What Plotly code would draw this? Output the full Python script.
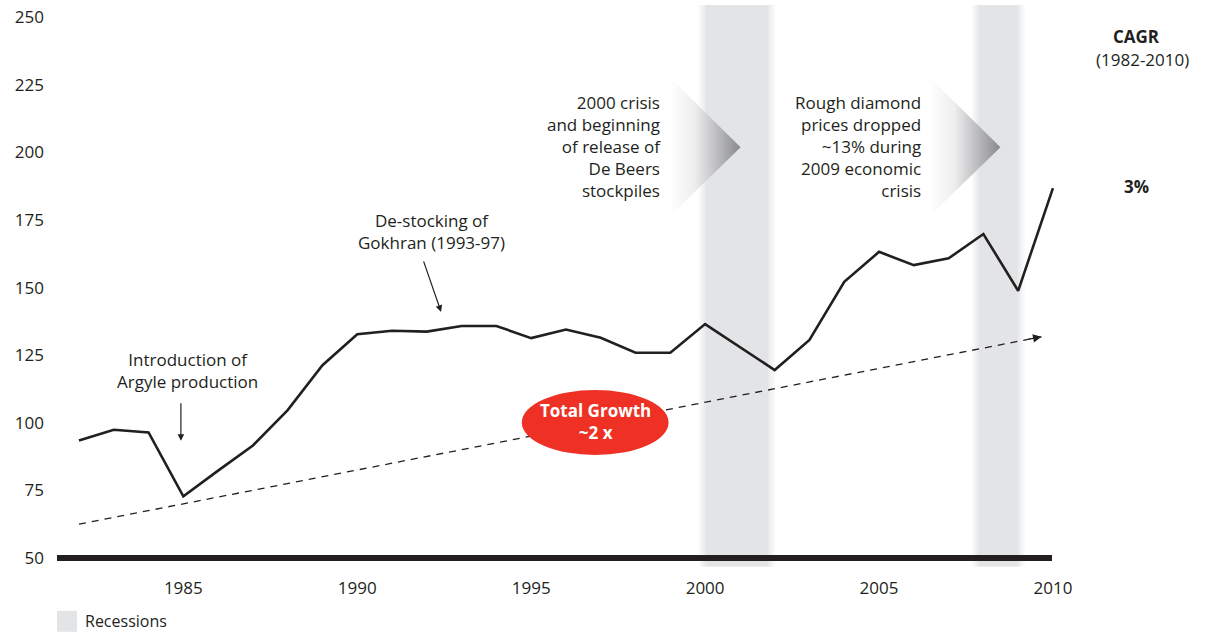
import plotly.graph_objects as go

# ---------------- data ----------------
years = list(range(1982, 2011))
price_index = [93.4, 97.4, 96.4, 72.8, 82.3, 91.6, 104.7, 121.3, 132.7, 134.0,
               133.7, 135.8, 135.8, 131.3, 134.5, 131.4, 125.9, 125.9, 136.5, 128.0,
               119.5, 130.6, 152.1, 163.2, 158.3, 160.8, 169.8, 148.8, 186.8]

trend_years = [1982, 2009.67]
trend_values = [62.5, 131.8]

recession_periods = [(2000.02, 2001.81), (2007.87, 2008.99)]

y_ticks = [50, 75, 100, 125, 150, 175, 200, 225, 250]
x_ticks = [1985, 1990, 1995, 2000, 2005, 2010]

cagr_label = "3%"

INK = "#231f20"
BAND = "#e3e4e6"
RED = "#ee3124"
FONT = "Open Sans"

fig = go.Figure()

# recession bands with soft edges
shapes = []
for (a, b) in recession_periods:
    for pad, op in [(0.2, 0.22), (0.13, 0.35), (0.06, 0.5)]:
        shapes.append(dict(type="rect", xref="x", yref="paper", x0=a - pad, x1=b + pad,
                           y0=-0.008, y1=1.0, fillcolor=BAND, opacity=op,
                           line=dict(width=0), layer="below"))
    shapes.append(dict(type="rect", xref="x", yref="paper", x0=a, x1=b,
                       y0=-0.008, y1=1.0, fillcolor=BAND, line=dict(width=0), layer="below"))

# chevron triangles (gradient) pointing to the recessions
chevrons = [
    ([1998.98, 2001.02, 1998.98, 1998.98], [227.8, 201.9, 176.4, 227.8]),
    ([2006.45, 2008.49, 2006.45, 2006.45], [227.8, 201.9, 176.4, 227.8]),
]
for cx, cy in chevrons:
    fig.add_trace(go.Scatter(
        x=cx, y=cy, mode="lines", fill="toself", line=dict(width=0),
        fillgradient=dict(type="horizontal",
                          colorscale=[[0, "rgba(255,255,255,1)"], [0.35, "#eeeeef"],
                                      [1, "#88898c"]]),
        hoverinfo="skip", showlegend=False))

# trend line (dashed)
fig.add_trace(go.Scatter(x=trend_years, y=trend_values, mode="lines",
                         line=dict(color=INK, width=1.3, dash="7px,6px"),
                         hoverinfo="skip", showlegend=False))

# main series
fig.add_trace(go.Scatter(x=years, y=price_index, mode="lines",
                         line=dict(color=INK, width=2.6),
                         hoverinfo="skip", showlegend=False))

# baseline
shapes.append(dict(type="line", xref="paper", yref="y", x0=0, x1=0.998, y0=50, y1=50,
                   line=dict(color=INK, width=6), layer="above"))

# total growth ellipse
shapes.append(dict(type="circle", xref="x", yref="y", x0=1994.73, x1=1998.95,
                   y0=88.1, y1=112.1, fillcolor=RED, line=dict(width=0), layer="above"))

# legend swatch
shapes.append(dict(type="rect", xref="paper", yref="paper", x0=0, x1=0.02,
                   y0=-0.1253, y1=-0.0876, fillcolor=BAND, line=dict(width=0)))

txt = dict(family=FONT, size=17, color=INK)
annotations = [
    dict(x=1985.13, y=119.5, xref="x", yref="y", text="Introduction of<br>Argyle production",
         showarrow=False, font=txt, align="center"),
    dict(x=1984.93, y=93.3, xref="x", yref="y", text="", showarrow=True, ax=0, ay=-39,
         arrowhead=2, arrowsize=1.1, arrowwidth=1.2, arrowcolor=INK),
    dict(x=1992.12, y=170.7, xref="x", yref="y", text="De-stocking of<br>Gokhran (1993-97)",
         showarrow=False, font=txt, align="center"),
    dict(x=1992.41, y=141.0, xref="x", yref="y", text="", showarrow=True, ax=-18, ay=-52,
         arrowhead=2, arrowsize=1.1, arrowwidth=1.2, arrowcolor=INK),
    dict(x=1998.79, y=202.3, xref="x", yref="y", xanchor="right", yanchor="middle",
         text="2000 crisis<br>and beginning<br>of release of<br>De Beers<br>stockpiles",
         showarrow=False, font=txt, align="right"),
    dict(x=2006.26, y=202.3, xref="x", yref="y", xanchor="right", yanchor="middle",
         text="Rough diamond<br>prices dropped<br>~13% during<br>2009 economic<br>crisis",
         showarrow=False, font=txt, align="right"),
    dict(x=trend_years[1], y=trend_values[1], xref="x", yref="y", text="", showarrow=True,
         ax=-14, ay=2.7, arrowhead=2, arrowsize=1.3, arrowwidth=1.3, arrowcolor=INK),
    dict(x=1996.84, y=100.6, xref="x", yref="y", text="<b>Total Growth<br>~2 x</b>",
         showarrow=False, font=dict(family=FONT, size=17, color="white"), align="center"),
    dict(x=1.083, y=243.0, xref="paper", yref="y", xanchor="center", yanchor="middle",
         text="<b>CAGR</b>", showarrow=False, font=txt),
    dict(x=1.089, y=234.5, xref="paper", yref="y", xanchor="center", yanchor="middle",
         text="(1982-2010)", showarrow=False, font=txt),
    dict(x=1.083, y=187.2, xref="paper", yref="y", xanchor="center", yanchor="middle",
         text="<b>" + cagr_label + "</b>", showarrow=False, font=txt),
    dict(x=0.026, y=-0.1055, xref="paper", yref="paper", xanchor="left", yanchor="middle",
         text="Recessions", showarrow=False, font=dict(family=FONT, size=16, color=INK)),
]

fig.update_layout(
    width=1206, height=634,
    margin=dict(l=57, r=152, t=5, b=72),
    paper_bgcolor="white", plot_bgcolor="white",
    shapes=shapes, annotations=annotations,
    showlegend=False,
    xaxis=dict(range=[1981.368, 2010.03], tickvals=x_ticks, showgrid=False, zeroline=False,
               showline=False, ticks="", ticklabelstandoff=14,
               tickfont=dict(family=FONT, size=17, color=INK)),
    yaxis=dict(range=[48.5, 254.5], tickvals=y_ticks, showgrid=False, zeroline=False,
               showline=False, ticks="", ticklabelstandoff=12,
               tickfont=dict(family=FONT, size=17, color=INK)),
)

fig.write_html("out.html", config={"displayModeBar": False},
               post_script="document.body.style.margin='0px';")
